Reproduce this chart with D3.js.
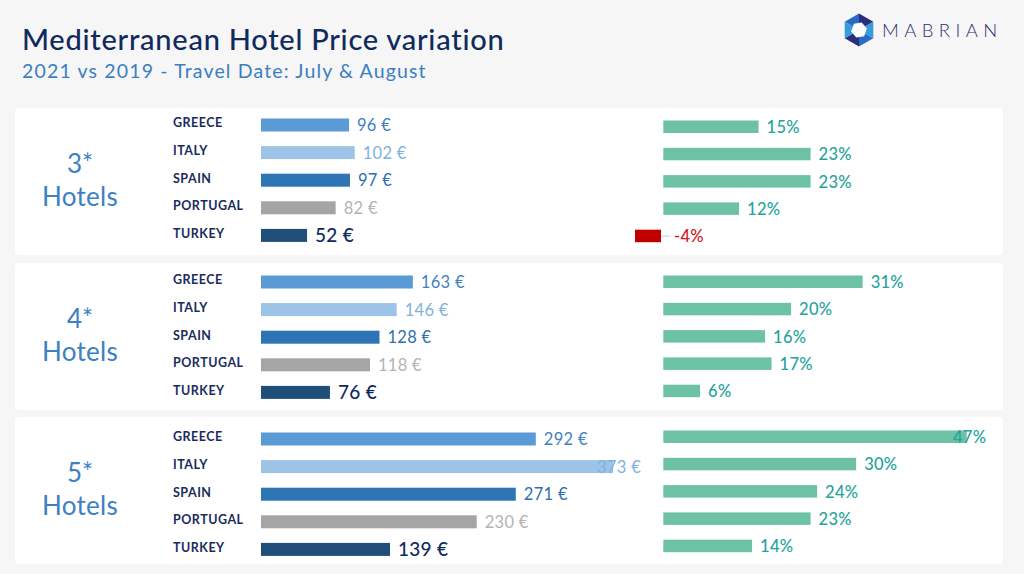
<!DOCTYPE html>
<html><head><meta charset="utf-8">
<script src="https://cdn.jsdelivr.net/npm/d3@7"></script>
<style>
html,body{margin:0;padding:0;background:#f6f6f6;}
svg{display:block;font-family:Lato,"Open Sans",sans-serif;}
</style></head>
<body>
<svg id="chart" width="1024" height="574"></svg>
<script>
// ---- data ----
const countries = ["GREECE","ITALY","SPAIN","PORTUGAL","TURKEY"];
const categories = ["3*","4*","5*"];
const prices3 = [96,102,97,82,52];
const prices4 = [163,146,128,118,76];
const prices5 = [292,373,271,230,139];
const change3 = [15,23,23,12,-4];
const change4 = [31,20,16,17,6];
const change5 = [47,30,24,23,14];
const title = "Mediterranean Hotel Price variation";
const subtitle = "2021 vs 2019 - Travel Date: July & August";

const prices = [prices3, prices4, prices5];
const changes = [change3, change4, change5];

// ---- styles / layout ----
const barColors = ["#5b9bd5","#9dc3e6","#2e75b6","#a5a5a5","#1f4e79"];
const labelColors = ["#3f7fc4","#7fb1e0","#2e6fb0","#b3b3b3","#0e2a5c"];
const posColor = "#6dc2a5", posLabel = "#25a39c";
const negColor = "#c00000", negLabel = "#c9211e";
const panelTop = [108, 263, 417], panelH = 147;
const priceRow0 = [125, 282, 439], priceStep = 27.6;
const pctRow0 = [127, 282, 437], pctStep = 27.3;
const barH = 13;

const svg = d3.select("#chart");
const x = d3.scaleLinear().domain([0, 373]).range([257.5, 613]);
const xp = d3.scaleLinear().domain([0, 47]).range([661, 966.7]);
const priceBarStart = x(0) + 3.5, pctBarStart = xp(0) + 2.3;

// title
svg.append("text").attr("x", 22).attr("y", 50).attr("fill", "#102a5e")
  .attr("font-size", 29).attr("font-weight", 500).attr("letter-spacing", 0.75).text(title);
svg.append("text").attr("x", 22).attr("y", 77.5).attr("fill", "#3a7fc2")
  .attr("font-size", 19.5).attr("letter-spacing", 1.15).text(subtitle);

// logo
const logo = svg.append("g").attr("transform", "translate(859,30)");
const R = 16.5;
const hexPts = d3.range(6).map(i => { const a = Math.PI/180*(60*i - 90); return [R*Math.cos(a), R*Math.sin(a)]; });
const segCols = ["#2a2e7c","#3a9bdc","#2a6cc4","#2a2e7c","#3a9bdc","#2a6cc4"];
hexPts.forEach((p, i) => {
  const q = hexPts[(i+1)%6];
  logo.append("path").attr("d", `M0,0L${p[0]},${p[1]}L${q[0]},${q[1]}Z`).attr("fill", segCols[i]);
});
const r2 = 8;
const inner = d3.range(6).map(i => { const a = Math.PI/180*(60*i - 70); return [r2*Math.cos(a), r2*Math.sin(a)]; });
logo.append("path").attr("d", "M" + inner.map(p => p.join(",")).join("L") + "Z").attr("fill", "#ffffff");
svg.append("text").attr("x", 882).attr("y", 37).attr("fill", "#2d3075")
  .attr("font-size", 18.5).attr("font-weight", 300).attr("letter-spacing", 5.4).text("MABRIAN");

// panels
categories.forEach((cat, pi) => {
  const g = svg.append("g");
  g.append("rect").attr("x", 15).attr("y", panelTop[pi]).attr("width", 988).attr("height", panelH)
    .attr("rx", 4).attr("fill", "#ffffff");
  const cy = panelTop[pi] + panelH/2;
  g.append("text").attr("x", 80).attr("y", cy - 9).attr("text-anchor", "middle")
    .attr("fill", "#3d80c3").attr("font-size", 26).text(cat);
  g.append("text").attr("x", 80).attr("y", cy + 24).attr("text-anchor", "middle")
    .attr("fill", "#3d80c3").attr("font-size", 26).attr("letter-spacing", 0.3).text("Hotels");

  countries.forEach((c, i) => {
    const py = priceRow0[pi] + i*priceStep;
    const qy = pctRow0[pi] + i*pctStep;
    g.append("text").attr("x", 173).attr("y", py - 2).attr("dy", "0.35em")
      .attr("fill", "#1a2b5e").attr("font-size", 12.5).attr("font-weight", 700)
      .attr("letter-spacing", 0.5).text(c);
    // price bar
    const v = prices[pi][i];
    g.append("rect").attr("x", priceBarStart).attr("y", py - barH/2)
      .attr("width", x(v) - priceBarStart).attr("height", barH).attr("fill", barColors[i]);
    const big = i === 4;
    g.append("text").attr("x", Math.min(x(v) + 8, 597)).attr("y", py).attr("dy", "0.36em")
      .attr("fill", labelColors[i]).attr("font-size", big ? 19 : 16.5)
      .attr("font-weight", big ? 500 : 400).attr("letter-spacing", 0.3)
      .text(v + " €");
    // change bar
    const d = changes[pi][i];
    if (d >= 0) {
      g.append("rect").attr("x", pctBarStart).attr("y", qy - 6.5)
        .attr("width", xp(d) - pctBarStart).attr("height", 12.5).attr("fill", posColor);
      g.append("text").attr("x", Math.min(xp(d) + 8, 953)).attr("y", qy).attr("dy", "0.36em")
        .attr("fill", posLabel).attr("font-size", 16.5).attr("font-weight", 500)
        .attr("letter-spacing", 0.3).text(d + "%");
    } else {
      g.append("line").attr("x1", xp(d)).attr("x2", xp(0) + 9).attr("y1", qy).attr("y2", qy)
        .attr("stroke", "#cccccc").attr("stroke-width", 1);
      g.append("rect").attr("x", xp(d)).attr("y", qy - 6.5)
        .attr("width", xp(0) - xp(d)).attr("height", 12.5).attr("fill", negColor);
      g.append("text").attr("x", xp(0) + 13).attr("y", qy).attr("dy", "0.36em")
        .attr("fill", negLabel).attr("font-size", 16.5).attr("font-weight", 500)
        .attr("letter-spacing", 0.3).text(d + "%");
    }
  });
});
</script>
</body></html>
